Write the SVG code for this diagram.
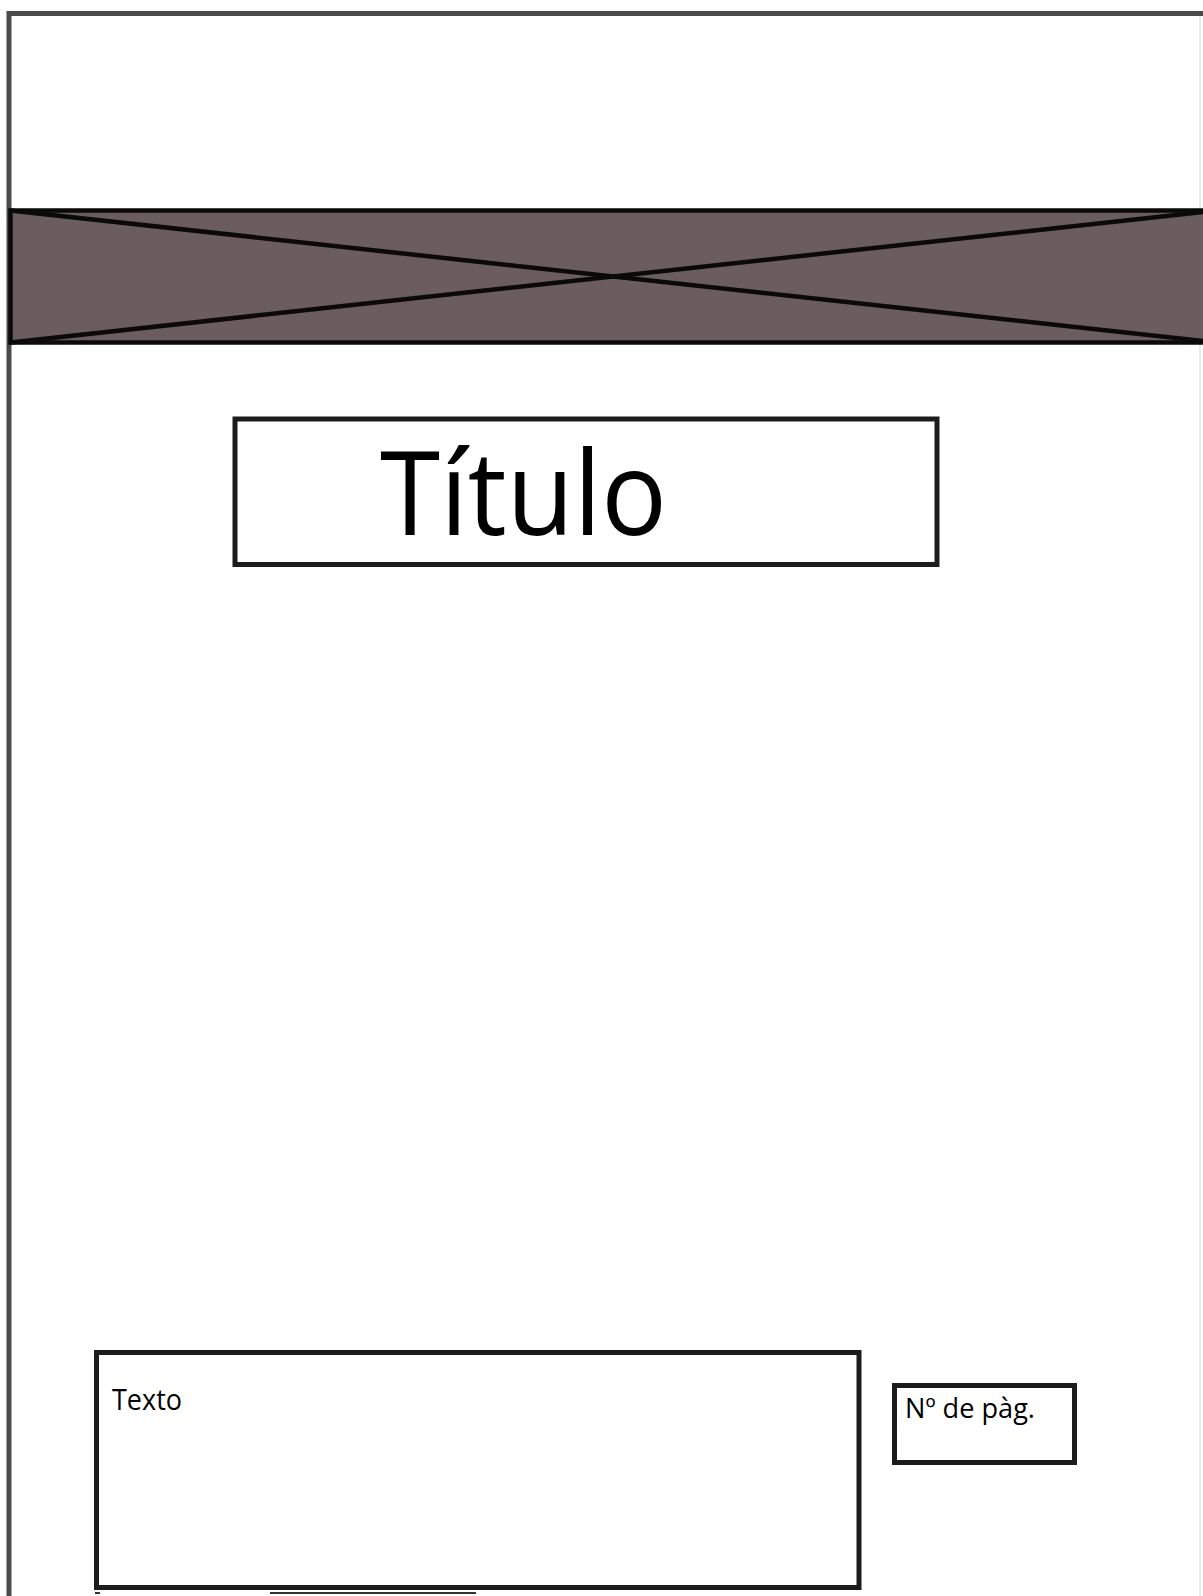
<svg xmlns="http://www.w3.org/2000/svg" width="1203" height="1596" viewBox="0 0 1203 1596">
  <style>
    .frame { fill: none; stroke: #4a4a4a; stroke-width: 5; }
    .box { fill: #ffffff; stroke: #1c1c1c; stroke-width: 5; }
    .txt { font-family: "Open Sans", "Noto Sans", "DejaVu Sans", sans-serif; fill: #000000; }
  </style>
  <rect x="0" y="0" width="1203" height="1596" fill="#ffffff"/>

  <g id="page-frame">
    <line class="frame" x1="9" y1="13.5" x2="1203" y2="13.5"/>
    <line class="frame" x1="9" y1="11" x2="9" y2="1596"/>
    <line x1="1200" y1="16" x2="1200" y2="1596" stroke="#ececec" stroke-width="2"/>
    <line x1="270" y1="1593" x2="476" y2="1593" stroke="#333333" stroke-width="2"/>
    <line x1="95" y1="1593" x2="100" y2="1593" stroke="#333333" stroke-width="2"/>
  </g>

  <g id="banner">
    <rect x="10.5" y="210.5" width="1195" height="132" fill="#6a5c5f" stroke="#0a0a0a" stroke-width="4.5"/>
    <line x1="10.5" y1="210.5" x2="1216" y2="342.5" stroke="#0a0a0a" stroke-width="4.5"/>
    <line x1="10.5" y1="342.5" x2="1216" y2="210.5" stroke="#0a0a0a" stroke-width="4.5"/>
  </g>

  <g id="title">
    <rect class="box" x="235" y="419" width="702" height="145.5" stroke-width="4"/>
    <text class="txt" x="380" y="535" font-size="117" font-weight="500" textLength="287" lengthAdjust="spacingAndGlyphs">Título</text>
  </g>

  <g id="text-box">
    <rect class="box" x="96.5" y="1352.5" width="762.5" height="235"/>
    <text class="txt" x="112" y="1410" font-size="29" font-weight="500" textLength="70" lengthAdjust="spacingAndGlyphs">Texto</text>
  </g>

  <g id="page-number">
    <rect class="box" x="894.5" y="1385.5" width="180" height="77" stroke="#000000"/>
    <text class="txt" x="905" y="1418" font-size="28" font-weight="500" textLength="130" lengthAdjust="spacingAndGlyphs">Nº de pàg.</text>
  </g>

  <g id="connectors"></g>
</svg>
